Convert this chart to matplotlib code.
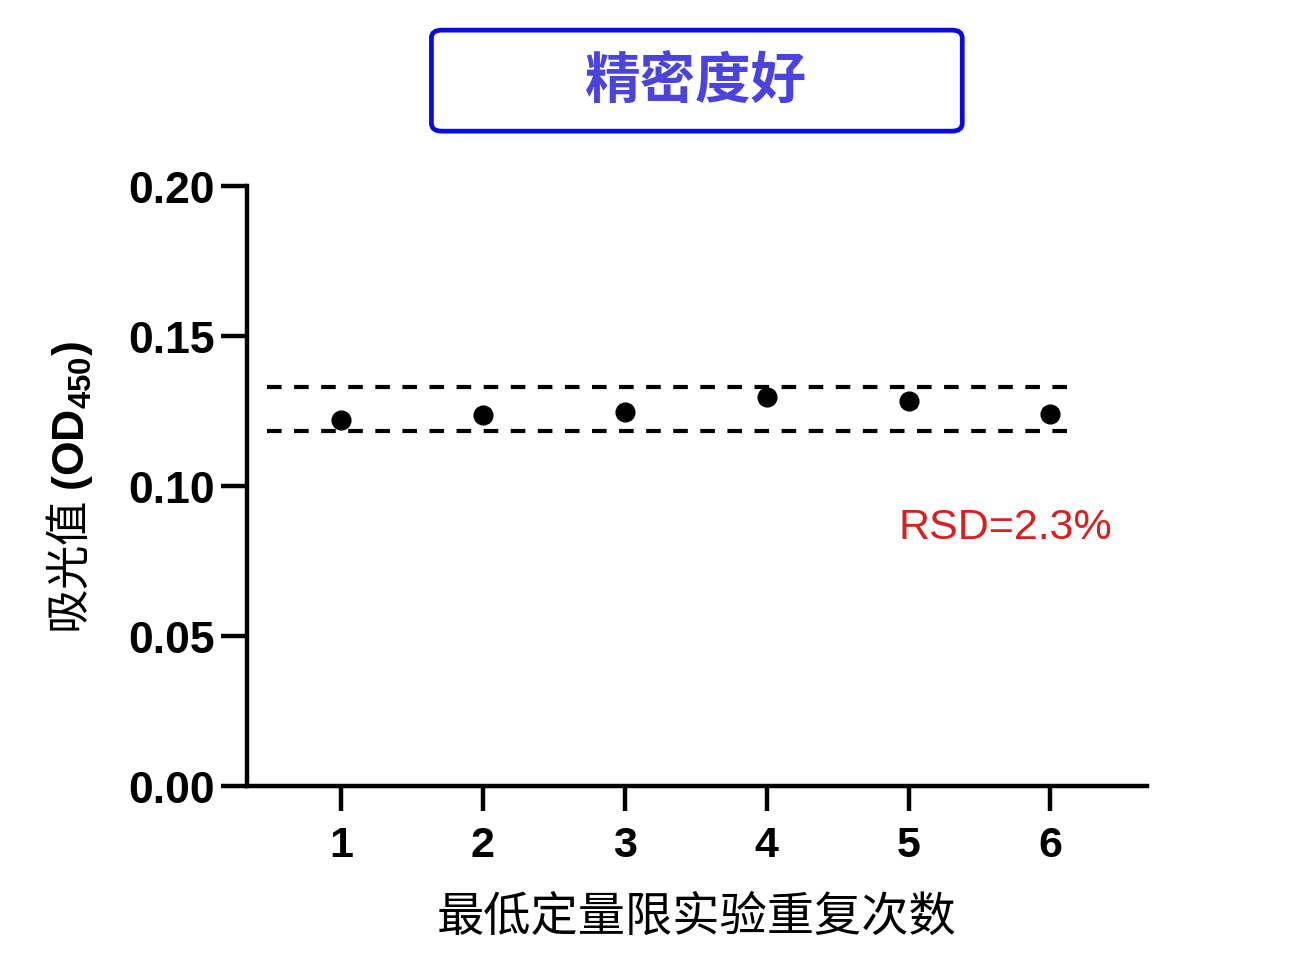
import matplotlib
matplotlib.use("Agg")
import matplotlib.pyplot as plt
from matplotlib.patches import FancyBboxPatch

plt.rcParams["font.family"] = ["Liberation Sans", "Noto Sans CJK SC", "DejaVu Sans"]
plt.rcParams["mathtext.fontset"] = "custom"
plt.rcParams["mathtext.rm"] = "Liberation Sans"
plt.rcParams["mathtext.bf"] = "Liberation Sans:bold"

# data
repeats = [1, 2, 3, 4, 5, 6]
od_values = [0.1220, 0.1237, 0.1247, 0.1297, 0.1283, 0.1240]
upper_limit = 0.1330
lower_limit = 0.1183
band_start, band_end = 0.48, 6.19
y_ticks = [0.00, 0.05, 0.10, 0.15, 0.20]
title_text = "精密度好"
x_label = "最低定量限实验重复次数"
rsd_text = "RSD=2.3%"

fig = plt.figure(figsize=(12.89, 9.79), dpi=100)
ax = fig.add_axes([0.1916, 0.1961, 0.6982, 0.6129])

ax.plot(repeats, od_values, "o", color="black", markersize=13.5, zorder=3)
for level in (upper_limit, lower_limit):
    ax.plot([band_start, band_end], [level, level], color="black", lw=3,
            dashes=(3.5, 3), zorder=2)

ax.set_xlim(0.337, 6.68)
ax.set_ylim(0, 0.2)
ax.set_yticks(y_ticks)
ax.set_yticklabels([f"{v:.2f}" for v in y_ticks])
ax.set_xticks(repeats)
ax.set_xticklabels([str(r) for r in repeats])

for side in ("top", "right"):
    ax.spines[side].set_visible(False)
for side in ("left", "bottom"):
    ax.spines[side].set_linewidth(3.2)
ax.tick_params(axis="y", direction="out", length=19, width=3.2, pad=4,
               labelsize=32)
ax.tick_params(axis="x", direction="out", length=18, width=3.2, pad=10,
               labelsize=31)
for label in ax.get_xticklabels() + ax.get_yticklabels():
    label.set_fontweight("bold")

ax.set_xlabel(x_label, fontsize=34, family=["Noto Sans CJK SC"], labelpad=20)
ax.set_ylabel("吸光值 $\\mathbf{(OD_{450})}$", fontsize=32,
              family=["Noto Sans CJK SC"], labelpad=24)

ax.text(5.68, 0.0863, rsd_text, color="#d91f1f", fontsize=31, ha="center",
        va="center")

# title box
box = FancyBboxPatch((0.3347, 0.865), 0.4118, 0.1032,
                     boxstyle="round,pad=0,rounding_size=0.008",
                     transform=fig.transFigure, facecolor="white",
                     edgecolor="#0a0adf", linewidth=3.4)
fig.patches.append(box)
fig.text(0.540, 0.915, title_text, color="#4a44dd", fontsize=40,
         fontweight="bold", family=["Noto Sans CJK SC"], ha="center",
         va="center")

fig.savefig("out.png", dpi=100)
